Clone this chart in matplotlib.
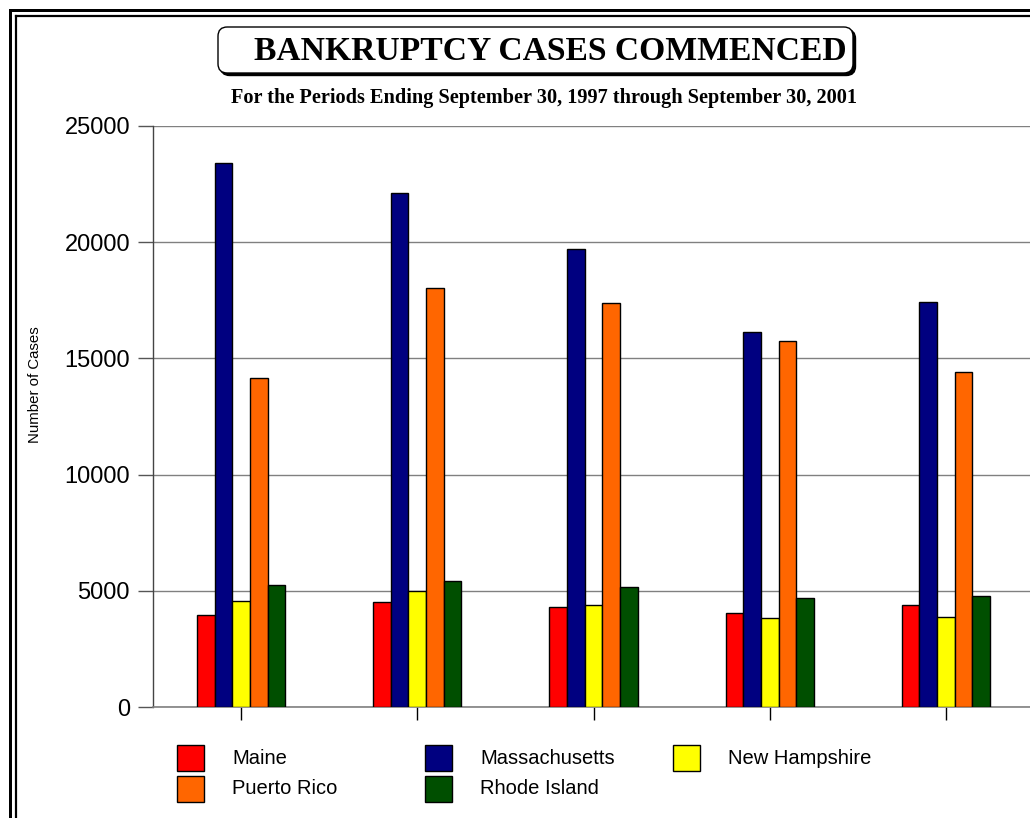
import matplotlib
matplotlib.use("Agg")
import matplotlib.pyplot as plt
import numpy as np
from matplotlib.patches import Rectangle, FancyBboxPatch
from matplotlib.lines import Line2D

# Fiscal periods ending September 30
periods = ["1997", "1998", "1999", "2000", "2001"]

districts = ["Maine", "Massachusetts", "New Hampshire", "Puerto Rico", "Rhode Island"]
maine = [3980, 4500, 4320, 4060, 4410]
massachusetts = [23390, 22130, 19720, 16130, 17430]
new_hampshire = [4580, 4970, 4370, 3810, 3890]
puerto_rico = [14140, 18050, 17400, 15730, 14420]
rhode_island = [5270, 5430, 5180, 4710, 4790]

series = [maine, massachusetts, new_hampshire, puerto_rico, rhode_island]
colors = ["#FF0000", "#000080", "#FFFF00", "#FF6600", "#004F00"]

yticks = [0, 5000, 10000, 15000, 20000, 25000]

W, H = 1030, 818
fig = plt.figure(figsize=(W / 100, H / 100), dpi=100)
fig.patch.set_facecolor("white")


def fx(x):
    return x / W


def fy(y):
    return 1 - y / H


# Plot area
ax = fig.add_axes([fx(153), fy(707), (1034 - 153) / W, (707 - 126) / H])
ax.set_facecolor("white")

x = np.arange(len(periods))
bw = 0.1
offsets = (np.arange(len(series)) - 2) * bw
for vals, off, col in zip(series, offsets, colors):
    ax.bar(x + off, vals, width=bw, color=col, edgecolor="black",
           linewidth=1.0, zorder=3)

ax.set_xlim(-0.5, len(periods) - 0.5)
ax.set_ylim(0, 25000)
ax.set_yticks(yticks)
ax.set_yticklabels([str(v) for v in yticks], fontfamily="Liberation Sans",
                   fontsize=17)
ax.set_xticks(x)
ax.set_xticklabels([])
ax.tick_params(axis="y", direction="out", length=10.5, width=1.0,
               color="#555555", pad=6)
ax.tick_params(axis="x", direction="out", length=9.5, width=1.0,
               color="black")
ax.yaxis.grid(True, color="#808080", linewidth=1.0, zorder=0)
ax.set_axisbelow(True)
for s in ["top", "right"]:
    ax.spines[s].set_visible(False)
ax.spines["left"].set_color("#444444")
ax.spines["bottom"].set_color("#808080")
ax.spines["left"].set_linewidth(1.0)
ax.spines["bottom"].set_linewidth(1.2)

fig.text(fx(35), fy(385), "Number of Cases", rotation=90, ha="center",
         va="center", fontfamily="Liberation Sans", fontsize=10.8)

# Double outer frame
for off, lw in [(10, 3.0), (15.5, 2.2)]:
    fig.add_artist(Line2D([fx(off), fx(off)], [fy(off), -0.1],
                          transform=fig.transFigure, color="black", lw=lw * 0.72))
    fig.add_artist(Line2D([fx(off), 1.1], [fy(off), fy(off)],
                          transform=fig.transFigure, color="black", lw=lw * 0.72))

# Title box with shadow
bx0, by0, bx1, by1 = 218, 27, 853, 73
shadow = FancyBboxPatch((fx(bx0 + 2.5), fy(by1 + 2.5)), fx(bx1 - bx0), (by1 - by0) / H,
                        boxstyle="round,pad=0,rounding_size=0.009",
                        transform=fig.transFigure, facecolor="black",
                        edgecolor="black", lw=1.0, mutation_aspect=W / H)
fig.add_artist(shadow)
box = FancyBboxPatch((fx(bx0), fy(by1)), fx(bx1 - bx0), (by1 - by0) / H,
                     boxstyle="round,pad=0,rounding_size=0.009",
                     transform=fig.transFigure, facecolor="white",
                     edgecolor="black", lw=1.0, mutation_aspect=W / H)
fig.add_artist(box)
fig.text(fx(550), fy(51), "BANKRUPTCY CASES COMMENCED", ha="center",
         va="center", fontfamily="Liberation Serif", fontweight="bold",
         fontsize=24.2)
fig.text(fx(544), fy(98),
         "For the Periods Ending September 30, 1997 through September 30, 2001",
         ha="center", va="center", fontfamily="Liberation Serif",
         fontweight="bold", fontsize=14.6)

# Legend laid out as a grid
legend_pos = [(177, 745), (425, 745), (673, 745), (177, 776), (425, 776)]
for name, col, (lx, ly) in zip(districts, colors, legend_pos):
    fig.add_artist(Rectangle((fx(lx), fy(ly + 26)), 27 / W, 26 / H,
                             transform=fig.transFigure, facecolor=col,
                             edgecolor="black", lw=1.0))
    fig.text(fx(lx + 55), fy(ly + 13), name, ha="left", va="center",
             fontfamily="Liberation Sans", fontsize=14.5)

fig.savefig("out.png", dpi=100, facecolor="white")
